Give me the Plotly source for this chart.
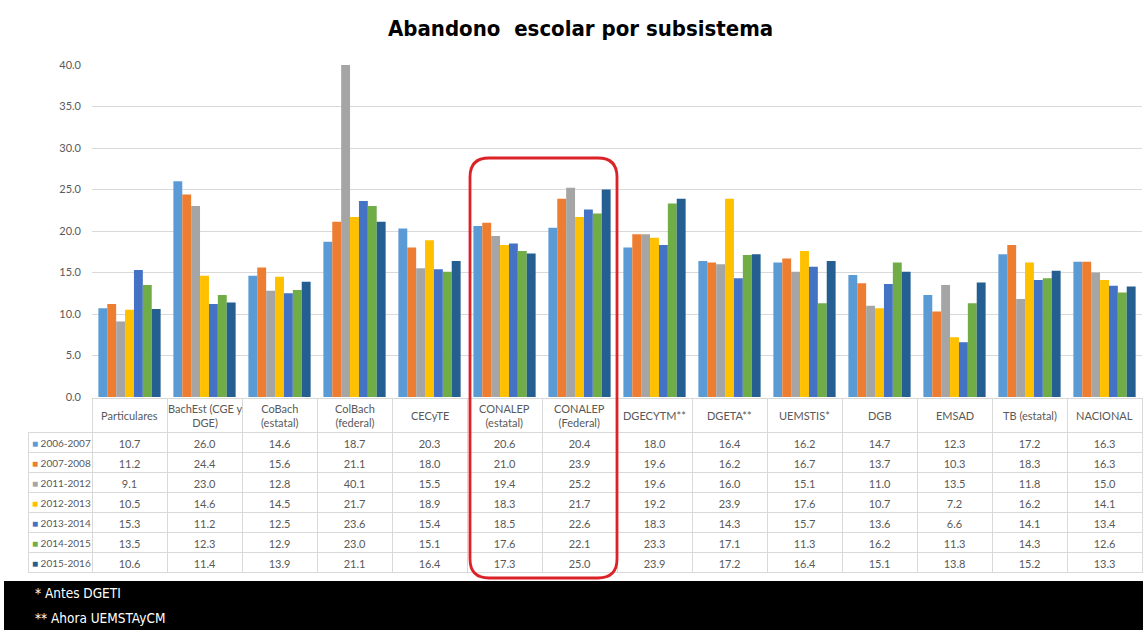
import plotly.graph_objects as go

categories = ["Particulares", "BachEst (CGE y DGE)", "CoBach (estatal)", "ColBach (federal)",
              "CECyTE", "CONALEP (estatal)", "CONALEP (Federal)", "DGECYTM**", "DGETA**",
              "UEMSTIS*", "DGB", "EMSAD", "TB (estatal)", "NACIONAL"]
header_labels = ["Particulares", "BachEst (CGE y<br>DGE)", "CoBach<br>(estatal)", "ColBach<br>(federal)",
                 "CECyTE", "CONALEP<br>(estatal)", "CONALEP<br>(Federal)", "DGECYTM**", "DGETA**",
                 "UEMSTIS*", "DGB", "EMSAD", "TB (estatal)", "NACIONAL"]
years = ["2006-2007", "2007-2008", "2011-2012", "2012-2013", "2013-2014", "2014-2015", "2015-2016"]

v2006_2007 = [10.7, 26.0, 14.6, 18.7, 20.3, 20.6, 20.4, 18.0, 16.4, 16.2, 14.7, 12.3, 17.2, 16.3]
v2007_2008 = [11.2, 24.4, 15.6, 21.1, 18.0, 21.0, 23.9, 19.6, 16.2, 16.7, 13.7, 10.3, 18.3, 16.3]
v2011_2012 = [9.1, 23.0, 12.8, 40.1, 15.5, 19.4, 25.2, 19.6, 16.0, 15.1, 11.0, 13.5, 11.8, 15.0]
v2012_2013 = [10.5, 14.6, 14.5, 21.7, 18.9, 18.3, 21.7, 19.2, 23.9, 17.6, 10.7, 7.2, 16.2, 14.1]
v2013_2014 = [15.3, 11.2, 12.5, 23.6, 15.4, 18.5, 22.6, 18.3, 14.3, 15.7, 13.6, 6.6, 14.1, 13.4]
v2014_2015 = [13.5, 12.3, 12.9, 23.0, 15.1, 17.6, 22.1, 23.3, 17.1, 11.3, 16.2, 11.3, 14.3, 12.6]
v2015_2016 = [10.6, 11.4, 13.9, 21.1, 16.4, 17.3, 25.0, 23.9, 17.2, 16.4, 15.1, 13.8, 15.2, 13.3]

series = [v2006_2007, v2007_2008, v2011_2012, v2012_2013, v2013_2014, v2014_2015, v2015_2016]
colors = ["#5B9BD5", "#ED7D31", "#A5A5A5", "#FFC000", "#4472C4", "#70AD47", "#255E91"]

W, H = 1143, 630
def px(x):
    return x / W
def py(y):
    return (H - y) / H

TXT = "#595959"
GRID = "#D9D9D9"

fig = go.Figure()
for yr, vals, c in zip(years, series, colors):
    fig.add_trace(go.Bar(x=categories, y=vals, name=yr, marker_color=c,
                         marker_line_width=0, showlegend=False))

n = len(categories)
cols = [[""] * len(years)]
for i in range(n):
    cols.append([f"{s[i]:.1f}" for s in series])

HEAD_TOP, HEAD_H, ROW_H = 398, 34, 20
table_bottom = HEAD_TOP + HEAD_H + ROW_H * len(years)
fig.add_trace(go.Table(
    domain=dict(x=[px(28), px(1142)], y=[py(table_bottom + 1), py(HEAD_TOP)]),
    columnwidth=[64] + [75] * n,
    header=dict(values=[""] * (n + 1),
                fill_color=["rgba(0,0,0,0)"] + ["white"] * n,
                line=dict(color=["rgba(0,0,0,0)"] + [GRID] * n, width=1),
                font=dict(family="Lato", size=11, color=TXT),
                align="center", height=HEAD_H),
    cells=dict(values=cols,
               fill_color="white",
               line=dict(color=GRID, width=1),
               font=dict(family="Lato", size=11, color=TXT),
               align="center", height=ROW_H),
))

shapes = [
    dict(type="rect", xref="paper", yref="paper", x0=px(4), x1=1, y0=0, y1=py(581),
         fillcolor="black", line_width=0, layer="above"),
]
x0, x1, y0, y1 = px(470), px(617), py(578), py(158)
rx, ry = 19 / W, 19 / H
path = (f"M {x0+rx},{y1} L {x1-rx},{y1} Q {x1},{y1} {x1},{y1-ry} "
        f"L {x1},{y0+ry} Q {x1},{y0} {x1-rx},{y0} L {x0+rx},{y0} "
        f"Q {x0},{y0} {x0},{y0+ry} L {x0},{y1-ry} Q {x0},{y1} {x0+rx},{y1} Z")
shapes.append(dict(type="path", xref="paper", yref="paper", path=path,
                   line=dict(color="#DC2228", width=2.8), layer="above"))

annotations = [
    dict(text="<b>Abandono  escolar por subsistema</b>", x=px(580), y=py(29), xref="paper", yref="paper",
         xanchor="center", yanchor="middle", showarrow=False,
         font=dict(family="DejaVu Sans Condensed", size=22, color="black")),
    dict(text="* Antes DGETI", x=px(33), y=py(593), xref="paper", yref="paper",
         xanchor="left", yanchor="middle", showarrow=False,
         font=dict(family="DejaVu Sans Condensed", size=13.5, color="white")),
    dict(text="** Ahora UEMSTAyCM", x=px(33), y=py(618), xref="paper", yref="paper",
         xanchor="left", yanchor="middle", showarrow=False,
         font=dict(family="DejaVu Sans Condensed", size=13.5, color="white")),
]
for cat, lab in zip(categories, header_labels):
    annotations.append(dict(text=lab, x=cat, xref="x", y=py(HEAD_TOP + HEAD_H / 2), yref="paper",
                            xanchor="center", yanchor="middle", showarrow=False,
                            font=dict(family="Lato", size=11, color=TXT)))
for k, (yr, c) in enumerate(zip(years, colors)):
    yc = HEAD_TOP + HEAD_H + ROW_H * k + ROW_H / 2 + 1
    annotations.append(dict(text=f'<span style="color:{c}">■</span> {yr}', x=px(30), y=py(yc),
                            xref="paper", yref="paper", xanchor="left", yanchor="middle",
                            showarrow=False, font=dict(family="Lato", size=10, color=TXT)))

fig.update_layout(
    width=W, height=H,
    margin=dict(l=0, r=0, t=0, b=0, pad=0, autoexpand=False),
    paper_bgcolor="white", plot_bgcolor="white",
    barmode="group", bargap=0.17, bargroupgap=0,
    xaxis=dict(domain=[px(92), px(1142)], showticklabels=False, showgrid=False,
               zeroline=False, showline=False, ticks="", automargin=False),
    yaxis=dict(domain=[py(397), py(65)], range=[0, 40], dtick=5, tickformat=".1f",
               showgrid=True, gridcolor=GRID, gridwidth=1, zeroline=False, automargin=False,
               tickfont=dict(family="Lato", size=11, color=TXT), ticklabelstandoff=10),
    shapes=shapes, annotations=annotations,
    font=dict(family="Lato"),
)

fig.write_html("out.html", config={"displayModeBar": False},
               post_script="document.body.style.margin='0px';")
